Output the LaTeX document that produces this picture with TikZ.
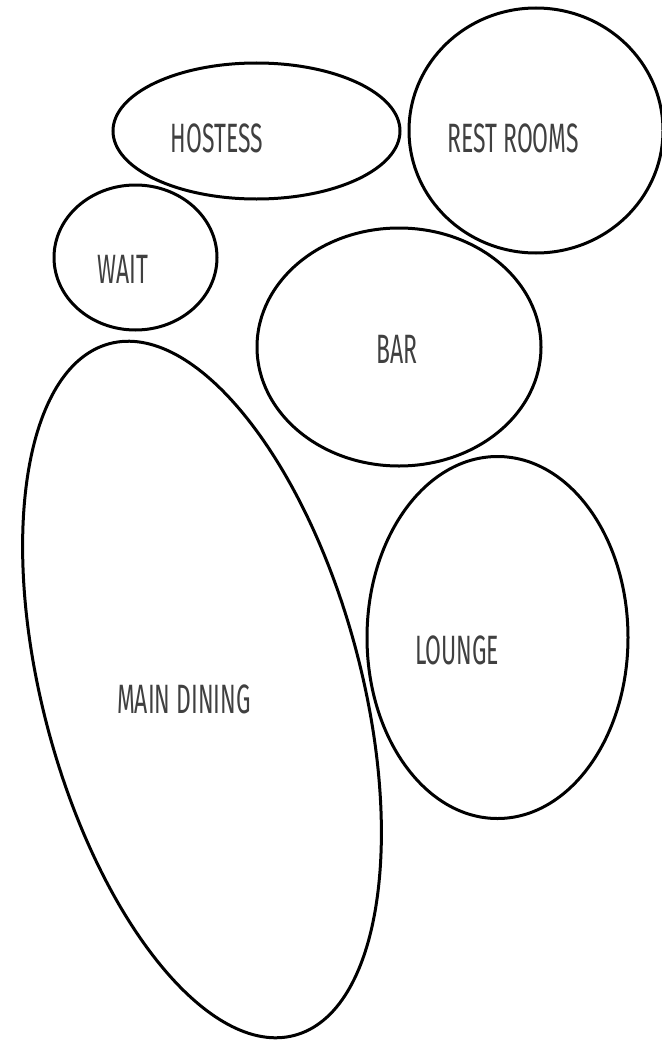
\documentclass[tikz,border=0pt]{standalone}
\usepackage{fontspec}
\setmainfont{Fira Sans}[FakeStretch=0.56]
\usetikzlibrary{shapes.geometric}
\definecolor{txt}{HTML}{404040}
\tikzset{
  room/.style={draw=black, line width=3pt, ellipse, inner sep=0pt, outer sep=0pt},
  lbl/.style={text=txt, inner sep=0pt, font=\fontsize{41}{41}\selectfont}
}
\begin{document}
\begin{tikzpicture}[x=1pt,y=-1pt]
\useasboundingbox (0,0) rectangle (661,1041);
\node[room, minimum width=287pt, minimum height=136pt] (hostess) at (256.5,131) {};
\node[room, minimum width=254pt, minimum height=245pt] (rest) at (536,130.5) {};
\node[room, minimum width=163pt, minimum height=145pt] (wait) at (135.5,257.5) {};
\node[room, minimum width=284pt, minimum height=238pt] (bar) at (399,347) {};
\node[room, minimum width=261pt, minimum height=362pt] (lounge) at (497.5,637.5) {};
\node[room, minimum width=318pt, minimum height=716pt, rotate=15] (main) at (202,689.5) {};
\node[lbl] (thostess) at (217,138) {HOSTESS};
\node[lbl] (trest) at (513,138) {REST ROOMS};
\node[lbl] (twait) at (123,269) {WAIT};
\node[lbl] (tbar) at (397,349) {BAR};
\node[lbl] (tlounge) at (457,650) {LOUNGE};
\node[lbl] (tmain) at (184,699) {MAIN DINING};
\end{tikzpicture}
\end{document}
